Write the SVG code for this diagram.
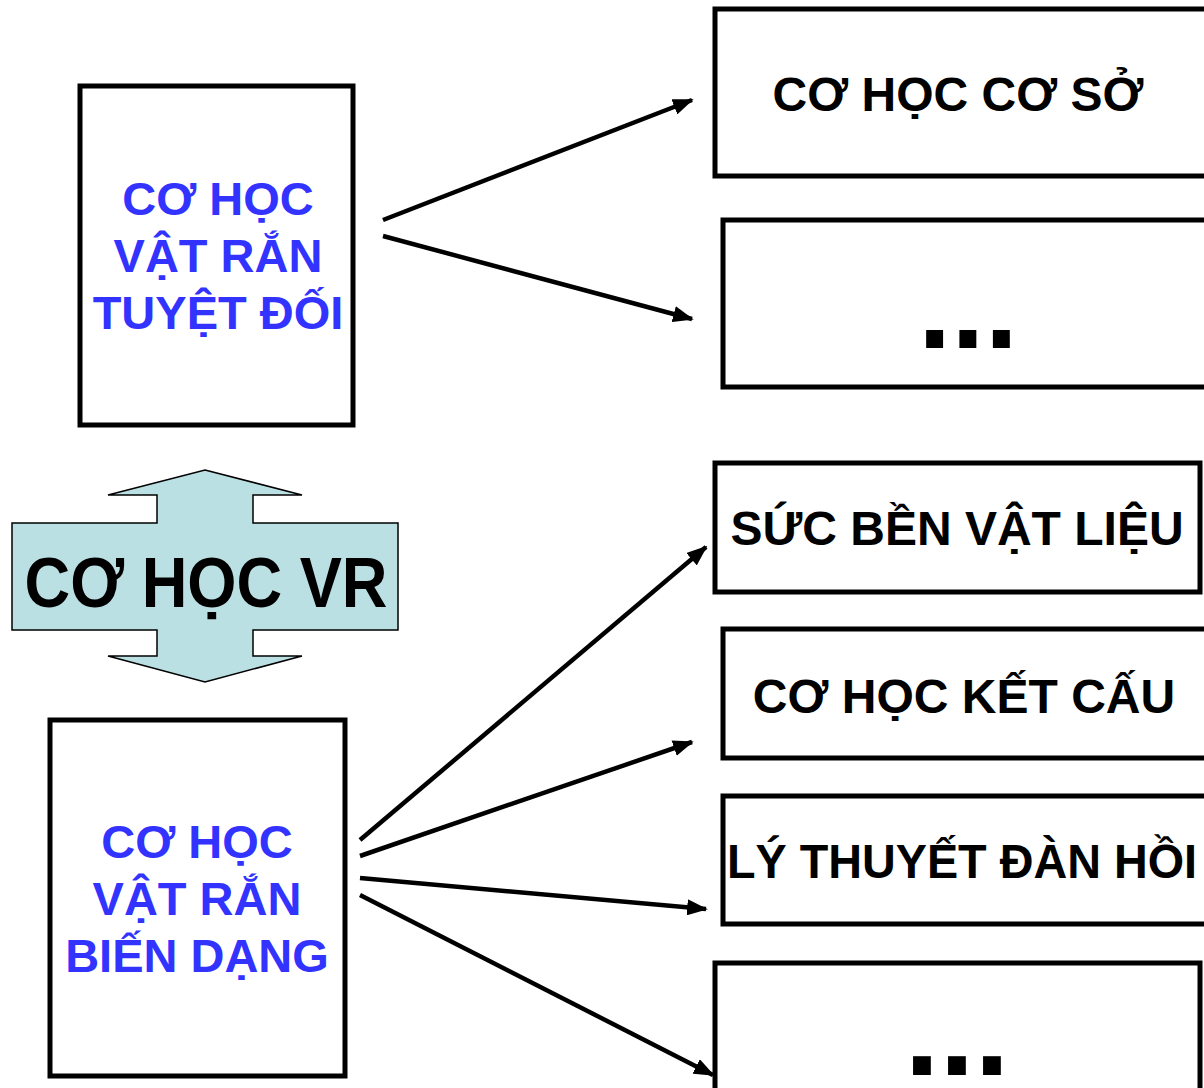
<svg xmlns="http://www.w3.org/2000/svg" width="1204" height="1088" viewBox="0 0 1204 1088">
<style>
.box{fill:#fff;stroke:#000;stroke-width:5}
.blue{font-family:"Liberation Sans",Arial,sans-serif;font-weight:bold;font-size:47px;fill:#3333ff;text-anchor:middle}
.blk{font-family:"Liberation Sans",Arial,sans-serif;font-weight:bold;font-size:48px;fill:#000;text-anchor:middle}
.dots{font-family:"Liberation Sans",Arial,sans-serif;font-weight:bold;fill:#000;text-anchor:middle}
.conn{stroke:#000;stroke-width:4.5;fill:none;marker-end:url(#ah)}
</style>
<defs>
<marker id="ah" markerWidth="4.6" markerHeight="3.6" refX="4.2" refY="1.8" orient="auto" markerUnits="strokeWidth">
<path d="M0,0 L4.6,1.8 L0,3.6 Z" fill="#000"/>
</marker>
</defs>
<rect width="1204" height="1088" fill="#fff"/>
<g id="n-tuyetdoi">
<rect class="box" x="80" y="86" width="273" height="339"/>
<text class="blue" x="218" y="215">CƠ HỌC</text>
<text class="blue" x="218" y="272">VẬT RẮN</text>
<text class="blue" x="218" y="329">TUYỆT ĐỐI</text>
</g>
<g id="n-biendang">
<rect class="box" x="50" y="720" width="295" height="356"/>
<text class="blue" x="197" y="858">CƠ HỌC</text>
<text class="blue" x="197" y="915">VẬT RẮN</text>
<text class="blue" x="197" y="972">BIẾN DẠNG</text>
</g>
<g id="n-cohocvr">
<path d="M205,470 L302,495 L253,495 L253,523 L398,523 L398,630 L253,630 L253,656 L302,656 L205,682 L108,656 L157,656 L157,630 L12,630 L12,523 L157,523 L157,495 L108,495 Z" fill="#bbe0e3" stroke="#000" stroke-width="1.5"/>
<text class="blk" x="206" y="607" style="font-size:71px" textLength="363" lengthAdjust="spacingAndGlyphs">CƠ HỌC VR</text>
</g>
<g id="n-cosocohoc">
<rect class="box" x="715" y="9" width="500" height="167"/>
<text class="blk" x="958" y="111">CƠ HỌC CƠ SỞ</text>
</g>
<g id="n-dots1">
<rect class="box" x="723" y="220" width="500" height="167"/>
<text class="dots" x="968" y="348" style="font-size:120px">...</text>
</g>
<g id="n-sbvl">
<rect class="box" x="715" y="463" width="485" height="129"/>
<text class="blk" x="957" y="545">SỨC BỀN VẬT LIỆU</text>
</g>
<g id="n-chkc">
<rect class="box" x="723" y="629" width="500" height="129"/>
<text class="blk" x="964" y="713">CƠ HỌC KẾT CẤU</text>
</g>
<g id="n-ltdh">
<rect class="box" x="723" y="796" width="500" height="128"/>
<text class="blk" x="727" y="878" style="text-anchor:start" textLength="470" lengthAdjust="spacingAndGlyphs">LÝ THUYẾT ĐÀN HỒI</text>
</g>
<g id="n-dots2">
<rect class="box" x="715" y="963" width="485" height="160"/>
<text class="dots" x="957" y="1075" style="font-size:126px">...</text>
</g>
<g id="connectors">
<line class="conn" x1="383" y1="220" x2="692" y2="100"/>
<line class="conn" x1="383" y1="236" x2="692" y2="319"/>
<line class="conn" x1="360" y1="840" x2="706" y2="547"/>
<line class="conn" x1="360" y1="856" x2="692" y2="742"/>
<line class="conn" x1="360" y1="878" x2="706" y2="909"/>
<line class="conn" x1="360" y1="895" x2="713" y2="1075"/>
</g>
</svg>
